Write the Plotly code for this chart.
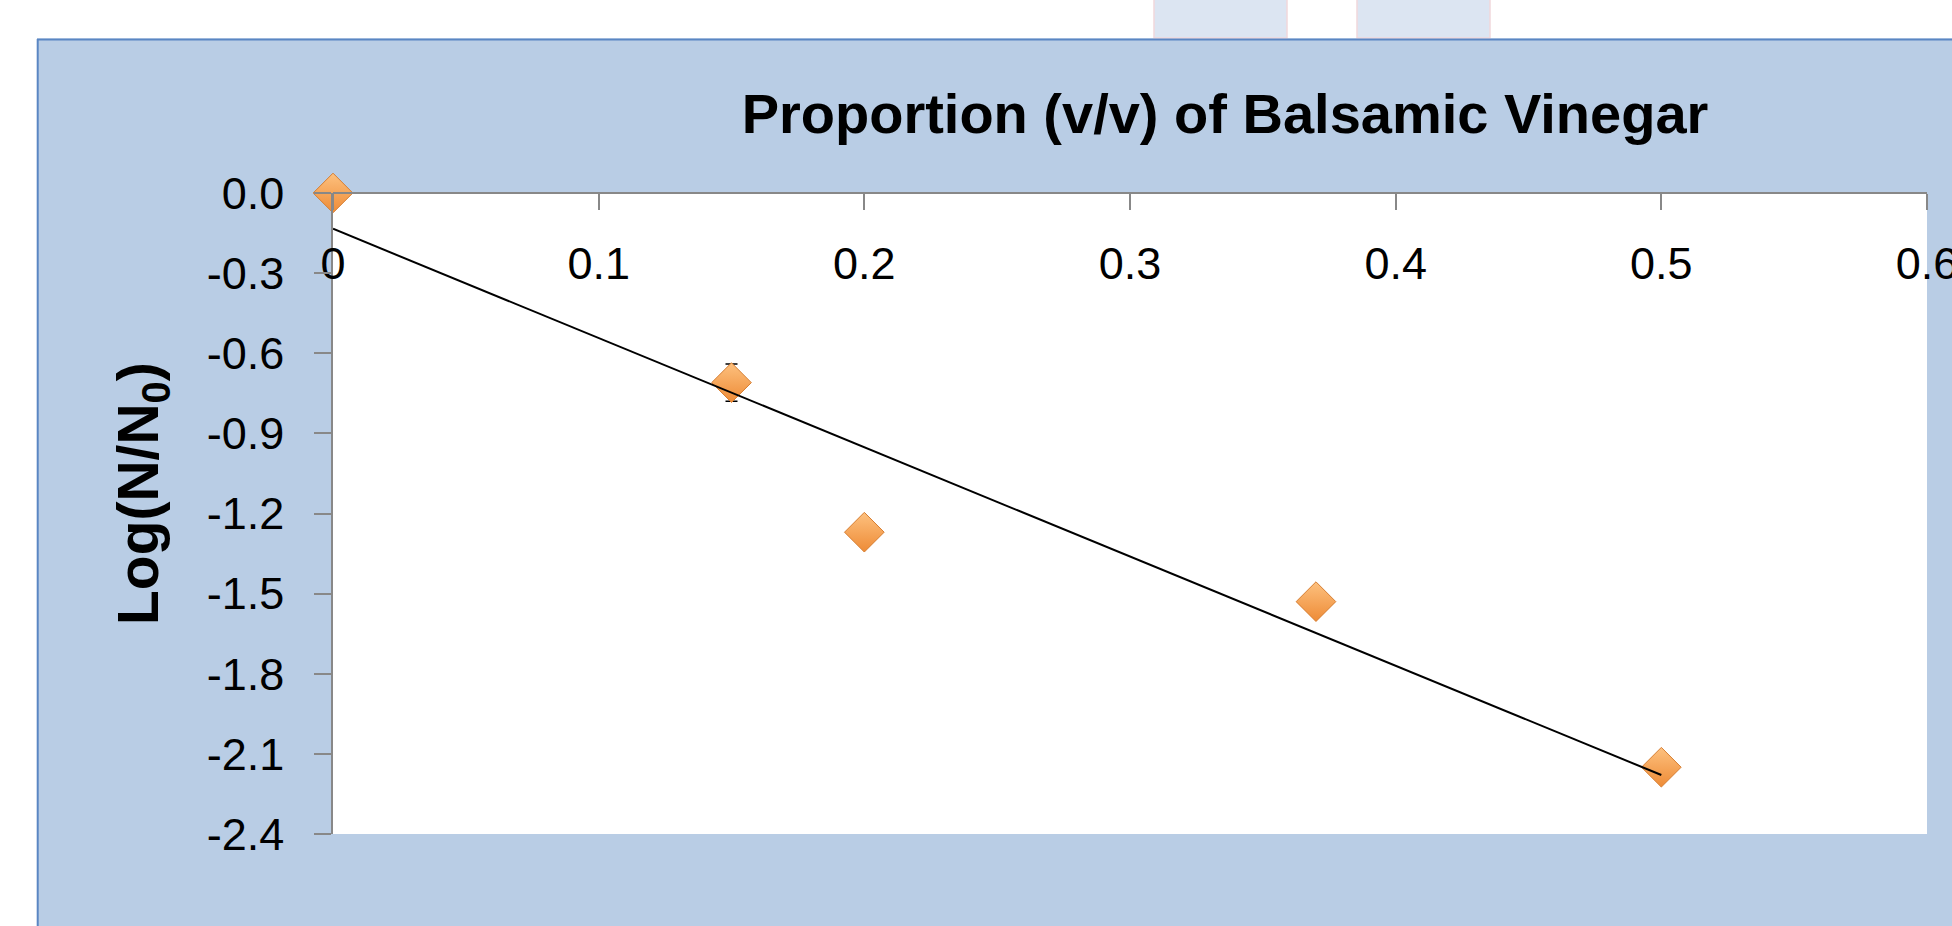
import numpy as np
import plotly.graph_objects as go

# ---- data ----
proportion = [0.0, 0.15, 0.2, 0.37, 0.5]
log_ratio = [0.0, -0.71, -1.27, -1.53, -2.15]
log_err = [0.0, 0.07, 0.0, 0.0, 0.0]
x_tick_vals = [0, 0.1, 0.2, 0.3, 0.4, 0.5, 0.6]
x_tick_text = ["0", "0.1", "0.2", "0.3", "0.4", "0.5", "0.6"]
y_tick_vals = [0.0, -0.3, -0.6, -0.9, -1.2, -1.5, -1.8, -2.1, -2.4]
y_tick_text = ["0.0", "-0.3", "-0.6", "-0.9", "-1.2", "-1.5", "-1.8", "-2.1", "-2.4"]
title_text = "Proportion (v/v) of Balsamic Vinegar"
y_title_text = "Log(N/N<sub>0</sub>)"

# linear trendline (least squares)
slope, intercept = np.polyfit(proportion, log_ratio, 1)
trend_x = [min(proportion), max(proportion)]
trend_y = [slope * v + intercept for v in trend_x]

W, H = 1952, 926
ML, MR, MT, MB = 333, 25, 193, 92
PW, PH = W - ML - MR, H - MT - MB


def px(xp):
    return (xp - ML) / PW


def py(yp):
    return (H - MB - yp) / PH


FONT = "Liberation Sans"
AXIS_GREY = "#888888"
BLUE_BG = "#B9CDE5"

fig = go.Figure()

fig.add_trace(go.Scatter(
    x=proportion, y=log_ratio, mode="markers", cliponaxis=False,
    marker=dict(symbol="diamond", size=30.5, color="#FDC17F",
                gradient=dict(type="vertical", color="#EE8B36"),
                line=dict(color="#D67D30", width=1)),
    error_y=dict(type="data", array=log_err, visible=True,
                 color="black", thickness=1.5, width=6),
    showlegend=False, hoverinfo="x+y",
))

fig.add_trace(go.Scatter(
    x=trend_x, y=trend_y, mode="lines",
    line=dict(color="black", width=2),
    showlegend=False, hoverinfo="skip",
))

shapes = [
    # white strips outside the blue chart frame
    dict(type="rect", xref="paper", yref="paper", x0=px(-10), x1=px(W + 10),
         y0=py(38.5), y1=py(-10), fillcolor="white", line_width=0, layer="below"),
    dict(type="rect", xref="paper", yref="paper", x0=px(-10), x1=px(37),
         y0=py(H + 10), y1=py(-10), fillcolor="white", line_width=0, layer="below"),
    # pale boxes at top
    dict(type="rect", xref="paper", yref="paper", x0=px(1154), x1=px(1287),
         y0=py(38), y1=py(-5), fillcolor="#DCE5F2",
         line=dict(color="#F1D7DC", width=1.5), layer="below"),
    dict(type="rect", xref="paper", yref="paper", x0=px(1357), x1=px(1490),
         y0=py(38), y1=py(-5), fillcolor="#DCE5F2",
         line=dict(color="#F1D7DC", width=1.5), layer="below"),
    # frame border lines
    dict(type="line", xref="paper", yref="paper", x0=px(37), x1=px(W + 10),
         y0=py(39.5), y1=py(39.5), line=dict(color="#5A86C3", width=2), layer="below"),
    dict(type="line", xref="paper", yref="paper", x0=px(37.7), x1=px(37.7),
         y0=py(39), y1=py(H + 10), line=dict(color="#5A86C3", width=2), layer="below"),
]

annotations = [
    dict(text=y_title_text, xref="paper", yref="paper", x=px(142), y=py(494),
         xanchor="center", yanchor="middle", textangle=-90, showarrow=False,
         font=dict(family=FONT, size=57, color="black", weight="bold")),
]

fig.update_layout(
    width=W, height=H,
    margin=dict(l=ML, r=MR, t=MT, b=MB, pad=0),
    paper_bgcolor=BLUE_BG, plot_bgcolor="white",
    shapes=shapes, annotations=annotations,
    title=dict(text=title_text, x=px(1225), xref="paper", xanchor="center",
               y=1 - 113 / H, yref="container", yanchor="middle",
               font=dict(family=FONT, size=56, color="black", weight="bold")),
    xaxis=dict(range=[0, 0.6], tickvals=x_tick_vals, ticktext=x_tick_text,
               anchor="free", position=1, side="bottom",
               showline=True, linecolor=AXIS_GREY, linewidth=1.5,
               ticks="outside", ticklen=16, tickwidth=1.5, tickcolor=AXIS_GREY,
               ticklabelstandoff=15, ticklabeloverflow="allow",
               showgrid=False, zeroline=False, automargin=False,
               tickfont=dict(family=FONT, size=45, color="black")),
    yaxis=dict(range=[-2.4, 0], tickvals=y_tick_vals, ticktext=y_tick_text,
               showline=True, linecolor=AXIS_GREY, linewidth=1.5,
               ticks="outside", ticklen=17, tickwidth=1.5, tickcolor=AXIS_GREY,
               ticklabelstandoff=21, ticklabeloverflow="allow",
               showgrid=False, zeroline=False, automargin=False,
               tickfont=dict(family=FONT, size=45, color="black")),
)

fig.write_html("out.html", config={"displayModeBar": False},
               post_script="document.body.style.margin='0';document.body.style.overflow='hidden';")
